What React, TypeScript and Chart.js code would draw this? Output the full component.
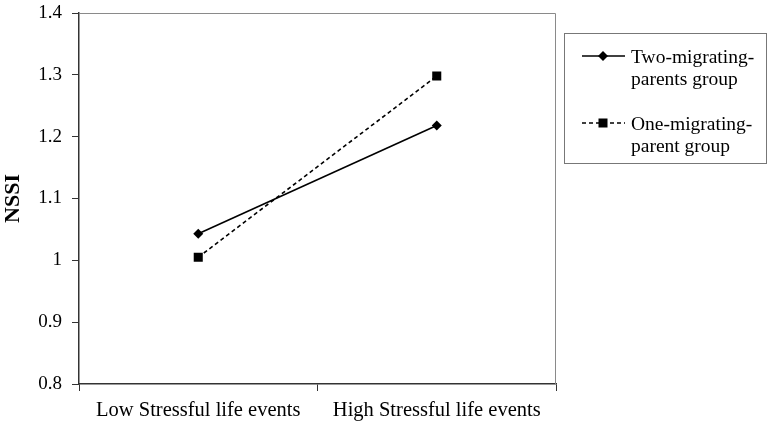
import { useEffect, useRef } from 'react';
import Chart from 'chart.js/auto';

const categories = ['Low Stressful life events', 'High Stressful life events'];
const twoParentsValues = [1.043, 1.218];
const oneParentValues = [1.005, 1.298];
const yTicks = [0.8, 0.9, 1.0, 1.1, 1.2, 1.3, 1.4];
const legendLines = [
  ['Two-migrating-', 'parents group'],
  ['One-migrating-', 'parent group'],
];

const SERIF = '"Liberation Serif", "Times New Roman", serif';

// frame round the plot (top + right sides are lighter than the axes)
const frame = {
  id: 'frame',
  beforeDatasetsDraw(chart) {
    const { ctx, chartArea: a } = chart;
    ctx.save();
    ctx.strokeStyle = '#8a8a8a';
    ctx.lineWidth = 1;
    ctx.beginPath();
    ctx.moveTo(a.left, a.top + 0.5);
    ctx.lineTo(a.right - 0.5, a.top + 0.5);
    ctx.lineTo(a.right - 0.5, a.bottom);
    ctx.stroke();
    ctx.restore();
  },
};

// boxed legend at the right, two lines of text per entry
const boxLegend = {
  id: 'boxLegend',
  afterDraw(chart) {
    const { ctx } = chart;
    const left = 564, top = 33, w = 202, h = 130;
    ctx.save();
    ctx.strokeStyle = '#777';
    ctx.lineWidth = 1;
    ctx.strokeRect(left + 0.5, top + 0.5, w, h);

    chart.data.datasets.forEach((ds, i) => {
      const y = 56 + i * 67;
      ctx.strokeStyle = '#000';
      ctx.lineWidth = 1.6;
      ctx.setLineDash(ds.borderDash || []);
      ctx.beginPath();
      ctx.moveTo(582, y);
      ctx.lineTo(625, y);
      ctx.stroke();
      ctx.setLineDash([]);
      ctx.fillStyle = '#000';
      if (ds.pointStyle === 'rect') {
        ctx.fillRect(603 - 4.5, y - 4.5, 9, 9);
      } else {
        ctx.beginPath();
        ctx.moveTo(603, y - 5);
        ctx.lineTo(608, y);
        ctx.lineTo(603, y + 5);
        ctx.lineTo(598, y);
        ctx.closePath();
        ctx.fill();
      }
      ctx.font = `19.5px ${SERIF}`;
      ctx.textBaseline = 'alphabetic';
      ctx.textAlign = 'left';
      legendLines[i].forEach((line, j) => {
        ctx.fillText(line, 631, y + 7 + j * 22);
      });
    });
    ctx.restore();
  },
};

const App = () => {
  const chartRef = useRef(null);

  useEffect(() => {
    document.body.style.margin = '0';
    const ctx = chartRef.current.getContext('2d');

    const chart = new Chart(ctx, {
      type: 'line',
      data: {
        labels: categories,
        datasets: [
          {
            label: legendLines[0].join(' '),
            data: twoParentsValues,
            borderColor: '#000',
            backgroundColor: '#000',
            borderWidth: 1.6,
            pointStyle: 'rectRot',
            pointRadius: 5,
            pointBorderWidth: 0,
          },
          {
            label: legendLines[1].join(' '),
            data: oneParentValues,
            borderColor: '#000',
            backgroundColor: '#000',
            borderWidth: 1.6,
            borderDash: [4, 3],
            pointStyle: 'rect',
            pointRadius: 6.4,
            pointBorderWidth: 0,
          },
        ],
      },
      options: {
        responsive: false,
        animation: false,
        layout: { padding: { top: 13, right: 216, left: 0, bottom: 0 } },
        plugins: {
          legend: { display: false },
          tooltip: { enabled: false },
        },
        scales: {
          x: {
            offset: true,
            grid: {
              offset: true,
              drawOnChartArea: false,
              tickLength: 7,
              color: '#333',
            },
            border: { color: '#333', width: 1.5 },
            ticks: {
              color: '#000',
              font: { family: SERIF, size: 20.5 },
              padding: 7,
              maxRotation: 0,
            },
            afterFit: (s) => {
              s.height = 44;
              s.paddingLeft = 0;
              s.paddingRight = 0;
            },
          },
          y: {
            min: 0.8,
            max: 1.4,
            afterBuildTicks: (s) => {
              s.ticks = yTicks.map((v) => ({ value: v }));
            },
            ticks: {
              color: '#000',
              font: { family: SERIF, size: 19 },
              padding: 10,
              callback: (v) => String(+Number(v).toFixed(1)),
            },
            grid: {
              drawOnChartArea: false,
              tickLength: 7,
              color: '#333',
            },
            border: { color: '#333', width: 1.5 },
            title: {
              display: true,
              text: 'NSSI',
              color: '#000',
              font: { family: SERIF, size: 22, weight: 'bold' },
              padding: { top: 0, bottom: 0 },
            },
            afterFit: (s) => {
              s.width = 79;
              s.paddingTop = 0;
              s.paddingBottom = 0;
            },
          },
        },
      },
      plugins: [frame, boxLegend],
    });

    return () => {
      chart.destroy();
    };
  }, []);

  return (
    <div style={{ width: 772, height: 428 }}>
      <canvas ref={chartRef} width={772} height={428}></canvas>
    </div>
  );
};

export default App;
